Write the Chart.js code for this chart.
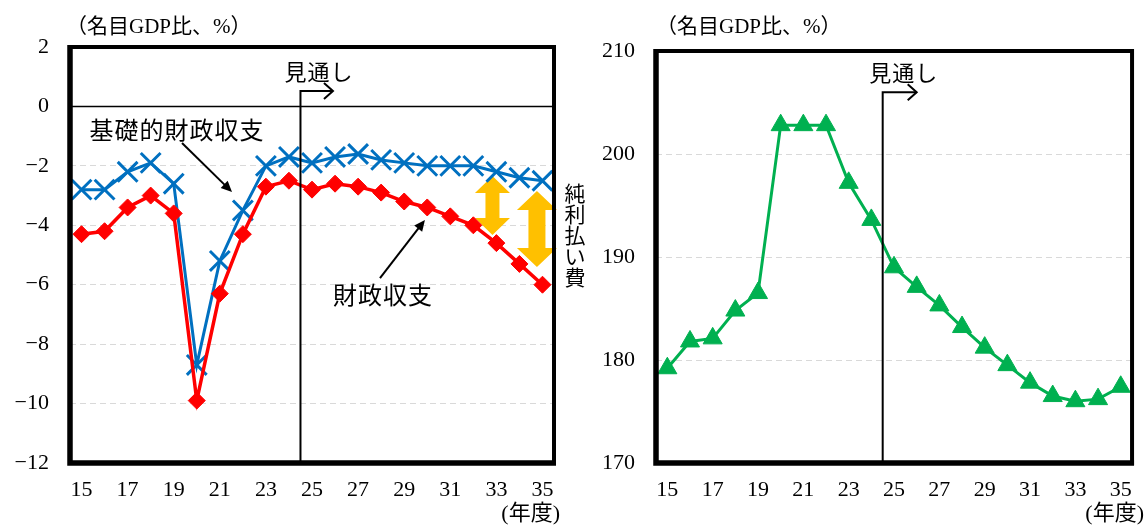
<!DOCTYPE html>
<html lang="ja">
<head>
<meta charset="utf-8">
<title>財政収支と公債等残高の見通し</title>
<script src="https://cdn.jsdelivr.net/npm/chart.js@4.4.1/dist/chart.umd.min.js"></script>
<style>
  html, body { margin: 0; padding: 0; background: #fff; }
  #wrap { position: relative; width: 1146px; height: 527px; overflow: hidden; }
  .box { position: absolute; top: 0; height: 527px; }
</style>
</head>
<body>
<div id="wrap">
  <div class="box" style="left:580px;width:566px"><canvas id="debtChart"></canvas></div>
  <div class="box" style="left:0;width:600px"><canvas id="balanceChart"></canvas></div>
</div>
<script>
// ---- data (fiscal years, % of nominal GDP) ----
const years = ['15','16','17','18','19','20','21','22','23','24','25','26','27','28','29','30','31','32','33','34','35'];
const yearTickLabels = ['15','17','19','21','23','25','27','29','31','33','35'];

// 財政収支
const fiscalBalance = [-4.3, -4.2, -3.4, -3.0, -3.6, -9.9, -6.3, -4.3, -2.7, -2.5, -2.8,
                       -2.6, -2.7, -2.9, -3.2, -3.4, -3.7, -4.0, -4.6, -5.3, -6.0];
// 基礎的財政収支
const primaryBalance = [-2.8, -2.8, -2.2, -1.9, -2.6, -8.7, -5.2, -3.5, -2.0, -1.7, -1.9,
                        -1.7, -1.6, -1.8, -1.9, -2.0, -2.0, -2.0, -2.2, -2.4, -2.5];
// 公債等残高
const debtRatio = [179.2, 181.8, 182.1, 184.8, 186.5, 202.8, 202.8, 202.8, 197.2, 193.6, 189.0,
                   187.1, 185.3, 183.2, 181.2, 179.5, 177.8, 176.5, 176.0, 176.2, 177.4];

const balanceTicks = { min: -12, max: 2, step: 2 };
const debtTicks = { min: 170, max: 210, step: 10 };

// ---- look ----
const SERIF = '"Liberation Serif", "Noto Sans CJK JP", serif';
const GOTHIC = '"Noto Sans CJK JP", sans-serif';
const C_FISCAL = '#FF0000';
const C_PRIMARY = '#0070C0';
const C_DEBT = '#00B050';
const C_GAP = '#FFC000';

// ---- annotation placement (category index, value) ----
const outlookSplit = 9.5;          // boundary between FY24 and FY25
const balanceOutlook = { top: 0.52, arrowTo: 10.91, label: [10.30, 1.16] };
const debtOutlook = { top: 206.0, arrowTo: 11.0, label: [10.43, 207.87] };
const balanceNotes = [
  { text: '基礎的財政収支', at: [4.14, -0.79], from: [4.36, -1.23], to: [6.53, -2.88] },
  { text: '財政収支', at: [13.08, -6.35], from: [12.95, -5.78], to: [14.90, -3.82] }
];
const interestGaps = [
  { at: 17.83, from: -2.34, to: -4.33, head: 35, headLen: 17, shaft: 14 },
  { at: 19.76, from: -2.85, to: -5.40, head: 40, headLen: 19, shaft: 17 }
];
const interestLabel = { text: '純利払い費', topValue: -2.91, step: 21 };

// ---- drawing helpers ----
function px(chart, idx, val) {
  return [chart.scales.x.getPixelForValue(idx), chart.scales.y.getPixelForValue(val)];
}
function filledArrow(ctx, x1, y1, x2, y2, len, half) {
  const a = Math.atan2(y2 - y1, x2 - x1);
  ctx.beginPath();
  ctx.moveTo(x1, y1);
  ctx.lineTo(x2 - Math.cos(a) * len * 0.8, y2 - Math.sin(a) * len * 0.8);
  ctx.stroke();
  ctx.beginPath();
  ctx.moveTo(x2, y2);
  ctx.lineTo(x2 - Math.cos(a) * len + Math.sin(a) * half, y2 - Math.sin(a) * len - Math.cos(a) * half);
  ctx.lineTo(x2 - Math.cos(a) * len - Math.sin(a) * half, y2 - Math.sin(a) * len + Math.cos(a) * half);
  ctx.closePath();
  ctx.fill();
}
function doubleArrow(ctx, cx, yTop, yBot, headW, headH, shaftW) {
  ctx.beginPath();
  ctx.moveTo(cx, yTop);
  ctx.lineTo(cx + headW / 2, yTop + headH);
  ctx.lineTo(cx + shaftW / 2, yTop + headH);
  ctx.lineTo(cx + shaftW / 2, yBot - headH);
  ctx.lineTo(cx + headW / 2, yBot - headH);
  ctx.lineTo(cx, yBot);
  ctx.lineTo(cx - headW / 2, yBot - headH);
  ctx.lineTo(cx - shaftW / 2, yBot - headH);
  ctx.lineTo(cx - shaftW / 2, yTop + headH);
  ctx.lineTo(cx - headW / 2, yTop + headH);
  ctx.closePath();
  ctx.fill();
}
function drawOutlook(chart, o) {
  const ctx = chart.ctx;
  const [x, yTop] = px(chart, outlookSplit, o.top);
  const [xEnd] = px(chart, o.arrowTo, o.top);
  const yBottom = chart.chartArea.bottom;
  ctx.save();
  ctx.strokeStyle = '#000';
  ctx.lineWidth = 2;
  ctx.lineJoin = 'miter';
  ctx.beginPath();
  ctx.moveTo(x, yBottom);
  ctx.lineTo(x, yTop);
  ctx.lineTo(xEnd, yTop);
  ctx.stroke();
  ctx.beginPath();
  ctx.moveTo(xEnd - 9, yTop - 8);
  ctx.lineTo(xEnd, yTop);
  ctx.lineTo(xEnd - 9, yTop + 8);
  ctx.stroke();
  const [tx, ty] = px(chart, o.label[0], o.label[1]);
  ctx.fillStyle = '#000';
  ctx.font = '22px ' + GOTHIC;
  ctx.textAlign = 'center';
  ctx.textBaseline = 'middle';
  ctx.letterSpacing = '1px';
  ctx.fillText('見通し', tx, ty);
  ctx.restore();
}
function drawFrame(chart) {
  const { left, right, top, bottom } = chart.chartArea;
  const ctx = chart.ctx;
  ctx.save();
  ctx.strokeStyle = '#000';
  ctx.lineWidth = 4;
  ctx.lineJoin = 'miter';
  ctx.strokeRect(left, top, right - left, bottom - top);
  ctx.lineWidth = 5.5;
  ctx.beginPath();
  ctx.moveTo(left, top - 2);
  ctx.lineTo(left, bottom);
  ctx.lineTo(right + 2, bottom);
  ctx.stroke();
  ctx.restore();
}
function drawCaptions(chart, titleX, unitRight) {
  const ctx = chart.ctx;
  ctx.save();
  ctx.fillStyle = '#000';
  ctx.font = '21px ' + SERIF;
  ctx.textBaseline = 'middle';
  ctx.textAlign = 'left';
  ctx.fillText('（名目GDP比、%）', titleX, 27);
  ctx.font = '22px ' + SERIF;
  ctx.textAlign = 'right';
  ctx.fillText('(年度)', unitRight, 514);
  ctx.restore();
}

const balancePlugin = {
  id: 'balanceDecor',
  beforeDatasetsDraw(chart) {
    const ctx = chart.ctx;
    const { left, right } = chart.chartArea;
    ctx.save();
    // zero line
    const y0 = chart.scales.y.getPixelForValue(0);
    ctx.strokeStyle = '#000';
    ctx.lineWidth = 1.5;
    ctx.beginPath();
    ctx.moveTo(left, y0);
    ctx.lineTo(right, y0);
    ctx.stroke();
    // net interest payment gap arrows
    ctx.fillStyle = C_GAP;
    interestGaps.forEach(g => {
      const [x, yTop] = px(chart, g.at, g.from);
      const [, yBot] = px(chart, g.at, g.to);
      doubleArrow(ctx, x, yTop, yBot, g.head, g.headLen, g.shaft);
    });
    ctx.restore();
  },
  afterDatasetsDraw(chart) {
    const ctx = chart.ctx;
    drawOutlook(chart, balanceOutlook);
    ctx.save();
    ctx.fillStyle = '#000';
    ctx.strokeStyle = '#000';
    ctx.lineWidth = 2;
    balanceNotes.forEach(n => {
      const [x1, y1] = px(chart, n.from[0], n.from[1]);
      const [x2, y2] = px(chart, n.to[0], n.to[1]);
      filledArrow(ctx, x1, y1, x2, y2, 11, 5);
      const [tx, ty] = px(chart, n.at[0], n.at[1]);
      ctx.font = '24px ' + GOTHIC;
      ctx.textAlign = 'center';
      ctx.textBaseline = 'middle';
      ctx.letterSpacing = '1px';
      ctx.fillText(n.text, tx, ty);
    });
    // vertical label beside the plot
    ctx.letterSpacing = '0px';
    ctx.font = '21px ' + GOTHIC;
    const lx = chart.chartArea.right + 21;
    const ly = chart.scales.y.getPixelForValue(interestLabel.topValue);
    Array.from(interestLabel.text).forEach((ch, i) => {
      ctx.fillText(ch, lx, ly + i * interestLabel.step);
    });
    ctx.restore();
    drawFrame(chart);
    drawCaptions(chart, 66, 560);
  }
};

const debtPlugin = {
  id: 'debtDecor',
  afterDatasetsDraw(chart) {
    drawOutlook(chart, debtOutlook);
    drawFrame(chart);
    drawCaptions(chart, 76, 564);
  }
};

function xAxis() {
  return {
    type: 'category',
    offset: true,
    grid: { display: false, drawTicks: false },
    border: { display: false },
    ticks: {
      autoSkip: false, maxRotation: 0, padding: 14, color: '#000',
      font: { family: SERIF, size: 22 },
      callback: (v, i) => (yearTickLabels.includes(years[i]) ? years[i] : '')
    },
    afterFit: s => { s.height = 64; }
  };
}
function yAxis(t, width, hideZero) {
  return {
    min: t.min, max: t.max,
    grid: {
      drawTicks: false, lineWidth: 1,
      color: c => {
        const v = c.tick ? c.tick.value : null;
        if (v === t.min || v === t.max || (hideZero && v === 0)) return 'rgba(0,0,0,0)';
        return '#d9d9d9';
      }
    },
    border: { display: false, dash: [6, 4] },
    ticks: {
      stepSize: t.step, padding: 21, color: '#000',
      font: { family: SERIF, size: 22 },
      callback: v => (v < 0 ? '\u2212' + Math.abs(v) : String(v))
    },
    afterFit: s => { s.width = width; }
  };
}
const common = {
  responsive: true,
  maintainAspectRatio: false,
  animation: false,
  events: [],
  plugins: { legend: { display: false }, tooltip: { enabled: false }, title: { display: false } }
};

new Chart(document.getElementById('balanceChart'), {
  type: 'line',
  data: {
    labels: years,
    datasets: [
      {
        label: '財政収支', data: fiscalBalance,
        borderColor: C_FISCAL, backgroundColor: C_FISCAL, borderWidth: 3.5,
        pointStyle: 'rectRot', pointRadius: 8.5, pointBorderWidth: 1,
        pointBackgroundColor: C_FISCAL, pointBorderColor: C_FISCAL, tension: 0
      },
      {
        label: '基礎的財政収支', data: primaryBalance,
        borderColor: C_PRIMARY, backgroundColor: C_PRIMARY, borderWidth: 3,
        pointStyle: 'crossRot', pointRadius: 14, pointBorderWidth: 3,
        pointBorderColor: C_PRIMARY, tension: 0
      }
    ]
  },
  options: Object.assign({}, common, {
    layout: { padding: { left: 0, right: 46, top: 47, bottom: 0 } },
    scales: { x: xAxis(), y: yAxis(balanceTicks, 70, true) }
  }),
  plugins: [balancePlugin]
});

new Chart(document.getElementById('debtChart'), {
  type: 'line',
  data: {
    labels: years,
    datasets: [
      {
        label: '公債等残高', data: debtRatio,
        borderColor: C_DEBT, backgroundColor: C_DEBT, borderWidth: 3,
        pointStyle: 'triangle', pointRadius: 11, pointBorderWidth: 1,
        pointBackgroundColor: C_DEBT, pointBorderColor: C_DEBT, tension: 0
      }
    ]
  },
  options: Object.assign({}, common, {
    layout: { padding: { left: 0, right: 4, top: 51, bottom: 0 } },
    scales: { x: xAxis(), y: yAxis(debtTicks, 76, false) }
  }),
  plugins: [debtPlugin]
});
</script>
</body>
</html>
